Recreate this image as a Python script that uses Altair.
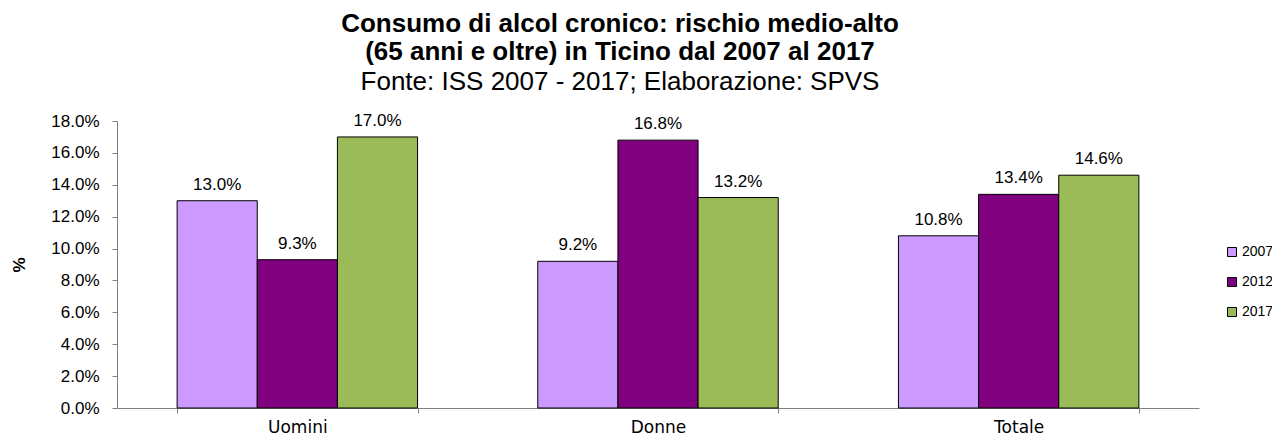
import altair as alt
import pandas as pd

categories = ["Uomini", "Donne", "Totale"]
years = ["2007", "2012", "2017"]
v2007 = [0.130, 0.092, 0.108]
v2012 = [0.093, 0.168, 0.134]
v2017 = [0.170, 0.132, 0.146]
colors = ["#CC99FF", "#800080", "#9BBB59"]

rows = []
for i, c in enumerate(categories):
    for y, vals in zip(years, [v2007, v2012, v2017]):
        rows.append({"cat": c, "year": y, "value": vals[i]})
df = pd.DataFrame(rows)

FONT = "Liberation Sans"

base = alt.Chart(df).encode(
    x=alt.X("cat:N", sort=categories,
            scale=alt.Scale(paddingInner=1/3, paddingOuter=1/6),
            axis=alt.Axis(title=None, labelAngle=0, tickBand="extent",
                          labelFontSize=17, labelFont="DejaVu Sans", labelColor="#000",
                          domainColor="#808080", tickColor="#808080",
                          tickSize=5, labelPadding=6)),
    xOffset=alt.XOffset("year:N", sort=years, scale=alt.Scale(paddingInner=0, paddingOuter=0)),
    y=alt.Y("value:Q",
            scale=alt.Scale(domain=[0, 0.18], nice=False),
            axis=alt.Axis(title="%", format=".1%", values=[i * 0.02 for i in range(10)],
                          grid=False, labelFontSize=17, labelFont=FONT, labelColor="#000",
                          titleFont=FONT, titleFontSize=17, titleFontWeight="bold",
                          titleColor="#000", titlePadding=22,
                          domainColor="#808080", tickColor="#808080", tickSize=5,
                          labelPadding=13)),
)

bars = base.mark_bar(stroke="#000", strokeWidth=1).encode(
    color=alt.Color("year:N", sort=years,
                    scale=alt.Scale(domain=years, range=colors),
                    legend=alt.Legend(title=None, orient="none", legendX=1108, legendY=124,
                                      symbolType="square", symbolSize=81,
                                      symbolStrokeColor="#000", symbolStrokeWidth=1,
                                      labelFontSize=14, labelFont=FONT, labelColor="#000",
                                      rowPadding=16, labelOffset=3))
)

labels = base.mark_text(dy=-11, baseline="alphabetic", fontSize=17, font=FONT, color="#000").encode(
    text=alt.Text("value:Q", format=".1%")
)

chart = alt.layer(bars, labels).properties(
    width=1082, height=287,
    autosize=alt.AutoSizeParams(type="none"),
    padding={"left": 109, "top": 113, "right": 73, "bottom": 29},
    title=alt.TitleParams(
        text=["Consumo di alcol cronico: rischio medio-alto",
              "(65 anni e oltre) in Ticino dal 2007 al 2017"],
        subtitle="Fonte: ISS 2007 - 2017; Elaborazione: SPVS",
        font=FONT, fontSize=26, fontWeight="bold", color="#000",
        subtitleFont=FONT, subtitleFontSize=26, subtitleColor="#000",
        lineHeight=28, subtitleLineHeight=29, subtitlePadding=4,
        anchor="middle", dx=-38, offset=17,
    ),
).configure_view(stroke=None)

chart.save("out.html", embed_options={"renderer": "svg", "actions": False})
